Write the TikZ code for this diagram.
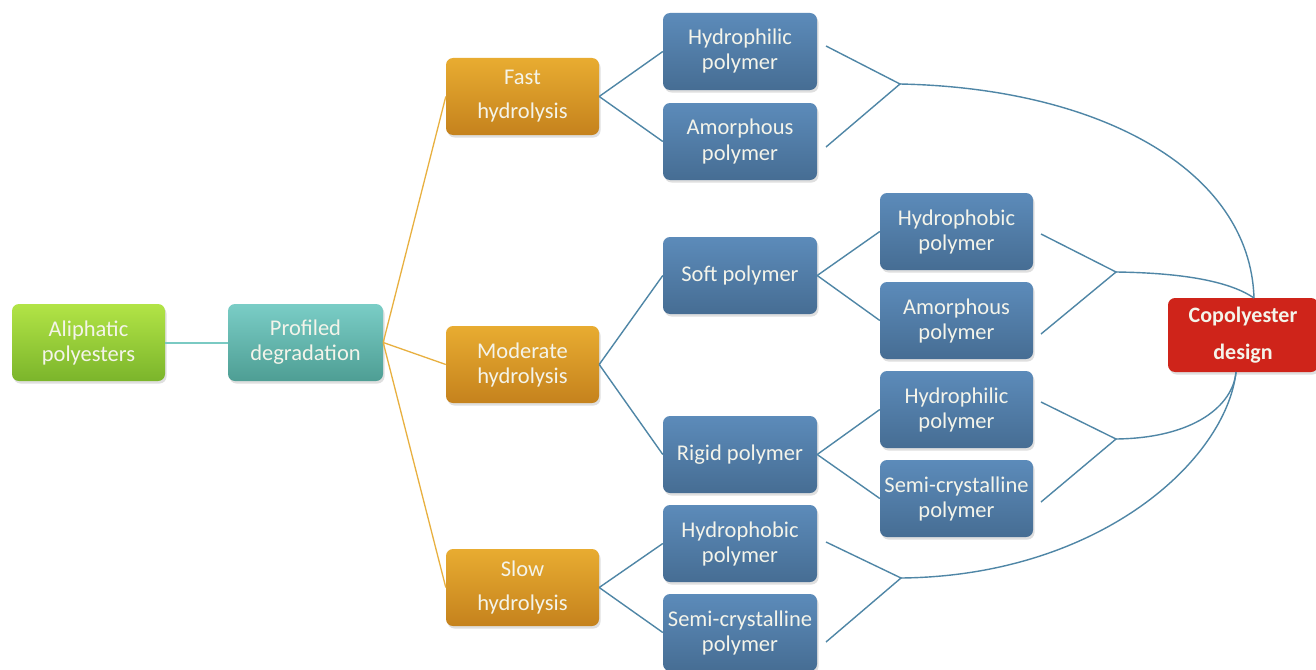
\documentclass[tikz,border=0pt]{standalone}
\usepackage{fontspec}
\setmainfont{Carlito}
\usetikzlibrary{shadows}
\definecolor{txt}{HTML}{F4F4EA}
\definecolor{blueline}{HTML}{4F86A6}
\definecolor{orangeline}{HTML}{E8B040}
\definecolor{tealline}{HTML}{7ACAC3}
\definecolor{greentop}{HTML}{B2E446}
\definecolor{greenbot}{HTML}{7BB52B}
\definecolor{tealtop}{HTML}{7ACDC6}
\definecolor{tealbot}{HTML}{4E9E94}
\definecolor{orangetop}{HTML}{E8AC31}
\definecolor{orangebot}{HTML}{C5821D}
\definecolor{bluetop}{HTML}{5C8BBA}
\definecolor{bluebot}{HTML}{466D93}
\definecolor{redfill}{HTML}{CF241A}
\tikzset{
  box/.style={rectangle, rounded corners=7pt, minimum width=153pt, minimum height=77pt,
    inner sep=2pt, align=center, text=txt,
    font=\fontsize{22.5}{25}\selectfont,
    drop shadow={opacity=0.25, shadow xshift=1.5pt, shadow yshift=-2.5pt}},
  greenbox/.style={box, top color=greentop, bottom color=greenbot},
  tealbox/.style={box, top color=tealtop, bottom color=tealbot},
  orangebox/.style={box, top color=orangetop, bottom color=orangebot},
  bluebox/.style={box, top color=bluetop, bottom color=bluebot},
  redbox/.style={box, minimum width=150pt, minimum height=74pt, fill=redfill,
    font=\fontsize{22}{33}\selectfont\bfseries},
  wide/.style={font=\fontsize{22.5}{34}\selectfont},
  bl/.style={draw=blueline, line width=1.4pt},
  ol/.style={draw=orangeline, line width=1.3pt},
  tl/.style={draw=tealline, line width=2pt},
}
\begin{document}
\begin{tikzpicture}[x=1pt,y=-1pt]
\useasboundingbox (0,0) rectangle (1316,669);
\fill[white] (0,0) rectangle (1316,669);

\coordinate (j1) at (900,84);
\coordinate (j2) at (1116,272);
\coordinate (j3) at (1116,439);
\coordinate (j4) at (901,578);
\coordinate (a1) at (826,46);
\coordinate (b1) at (826,147);
\coordinate (a2) at (1041,234);
\coordinate (b2) at (1041,334);
\coordinate (a3) at (1041,402);
\coordinate (b3) at (1041,502);
\coordinate (a4) at (826,542);
\coordinate (b4) at (826,642);

\node[greenbox] (ali) at (88.5,342.5) {Aliphatic\\polyesters};
\node[tealbox, minimum width=155pt] (prof) at (305.5,342.5) {Profiled\\degradation};
\node[orangebox, wide] (fast) at (522.5,96.5) {Fast\\hydrolysis};
\node[orangebox] (mod) at (522.5,364.5) {Moderate\\hydrolysis};
\node[orangebox, wide] (slow) at (522.5,587.5) {Slow\\hydrolysis};
\node[bluebox, minimum width=154pt] (hphil1) at (740,51.5) {Hydrophilic\\polymer};
\node[bluebox, minimum width=154pt] (amor1) at (740,141.5) {Amorphous\\polymer};
\node[bluebox, minimum width=154pt] (soft) at (740,275.5) {Soft polymer};
\node[bluebox, minimum width=154pt] (rigid) at (740,454.5) {Rigid polymer};
\node[bluebox, minimum width=154pt] (hphob3) at (740,543.5) {Hydrophobic\\polymer};
\node[bluebox, minimum width=154pt] (semi3) at (740,632.5) {Semi-crystalline\\polymer};
\node[bluebox] (hphob2) at (956.5,231.5) {Hydrophobic\\polymer};
\node[bluebox] (amor2) at (956.5,320.5) {Amorphous\\polymer};
\node[bluebox] (hphil2) at (956.5,409.5) {Hydrophilic\\polymer};
\node[bluebox] (semi2) at (956.5,498.5) {Semi-crystalline\\polymer};
\node[redbox] (copo) at (1243,335) {\raisebox{4pt}{Copolyester}\\design};

\coordinate (ct) at (1254,298);
\coordinate (cb) at (1236,372);

\draw[tl] (ali.east) -- (prof.west);
\draw[ol] (prof.east) -- (fast.west);
\draw[ol] (prof.east) -- (mod.west);
\draw[ol] (prof.east) -- (slow.west);

\draw[bl] (fast.east) -- (hphil1.west);
\draw[bl] (fast.east) -- (amor1.west);
\draw[bl] (mod.east) -- (soft.west);
\draw[bl] (mod.east) -- (rigid.west);
\draw[bl] (slow.east) -- (hphob3.west);
\draw[bl] (slow.east) -- (semi3.west);
\draw[bl] (soft.east) -- (hphob2.west);
\draw[bl] (soft.east) -- (amor2.west);
\draw[bl] (rigid.east) -- (hphil2.west);
\draw[bl] (rigid.east) -- (semi2.west);

\draw[bl] (a1) -- (j1) -- (b1);
\draw[bl] (a2) -- (j2) -- (b2);
\draw[bl] (a3) -- (j3) -- (b3);
\draw[bl] (a4) -- (j4) -- (b4);

\draw[bl] (j1) .. controls (1100,88) and (1250,170) .. (ct);
\draw[bl] (j2) .. controls (1190,273) and (1232,283) .. (ct);
\draw[bl] (j3) .. controls (1195,438) and (1233,405) .. (cb);
\draw[bl] (j4) .. controls (1100,576) and (1226,460) .. (cb);
\end{tikzpicture}
\end{document}
